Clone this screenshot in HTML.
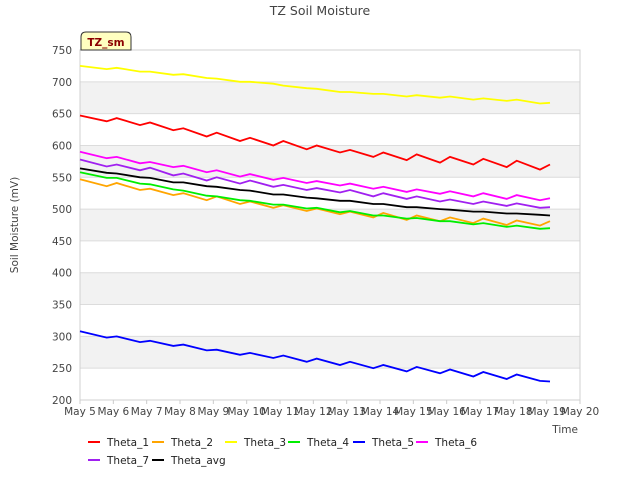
<!DOCTYPE html>
<html><head><meta charset="utf-8"><style>
body{margin:0;background:#fff;font-family:"DejaVu Sans","Liberation Sans",sans-serif;}
svg text{font-family:"DejaVu Sans","Liberation Sans",sans-serif;}
</style></head><body>
<svg id="chart" width="640" height="480" xmlns="http://www.w3.org/2000/svg">
<rect width="640" height="480" fill="#fff"/>
<g id="bands"></g><g id="grid"></g>
<rect x="80" y="50" width="500" height="350" fill="none" stroke="#d0d0d0"/>
<g id="series"></g><g id="axes"></g>
<text x="320" y="15" text-anchor="middle" font-size="12.5" fill="#444">TZ Soil Moisture</text>
<text transform="translate(18,225) rotate(-90)" text-anchor="middle" font-size="10.5" fill="#444">Soil Moisture (mV)</text>
<text x="578" y="433" text-anchor="end" font-size="10.5" fill="#444">Time</text>
<g>
<path d="M81,50 L81,37 Q81,32 86,32 L126,32 Q131,32 131,37 L131,50 Z" fill="#ffffc0" stroke="#333"/>
<text x="106" y="46" text-anchor="middle" font-size="10.5" font-weight="bold" fill="#8b0000">TZ_sm</text>
</g>
<g id="legend"></g>
</svg>
<script>
const NS="http://www.w3.org/2000/svg";
const yTicks=[200,250,300,350,400,450,500,550,600,650,700,750];
const xTickLabels=["May 5","May 6","May 7","May 8","May 9","May 10","May 11","May 12","May 13","May 14","May 15","May 16","May 17","May 18","May 19","May 20"];
const times=[0,0.8,1.1,1.8,2.1,2.8,3.1,3.8,4.1,4.8,5.1,5.8,6.1,6.8,7.1,7.8,8.1,8.8,9.1,9.8,10.1,10.8,11.1,11.8,12.1,12.8,13.1,13.8,14.1];
const theta1=[647,638,643,632,636,624,627,614,620,607,612,600,607,594,600,589,593,582,589,577,586,573,582,570,579,566,576,562,570];
const theta2=[547,536,541,530,532,522,525,514,520,508,512,502,506,497,501,492,496,487,494,483,490,481,487,478,485,475,482,474,481];
const theta3=[725,720,722,716,716,711,712,706,705,700,700,697,694,690,689,684,684,681,681,677,679,675,677,672,674,670,672,666,667];
const theta4=[558,549,549,540,539,531,529,521,520,514,513,507,507,501,502,495,497,490,490,485,486,481,481,476,478,472,474,469,470];
const theta5=[308,298,300,291,293,285,287,278,279,271,274,266,270,260,265,255,260,250,255,245,252,242,248,237,244,233,240,230,229];
const theta6=[590,580,582,572,574,566,568,558,561,551,555,546,549,541,544,537,540,532,535,527,531,524,528,520,525,516,522,514,517];
const theta7=[578,567,570,561,565,553,556,545,550,540,545,535,538,530,533,526,530,520,525,516,520,512,515,508,512,505,509,502,503];
const thetaAvg=[564,557,556,550,549,542,542,536,535,530,529,523,523,518,517,513,513,508,508,503,503,500,499,496,496,493,493,491,490];
const seriesNames=["Theta_1","Theta_2","Theta_3","Theta_4","Theta_5","Theta_6","Theta_7","Theta_avg"];
const seriesData=[theta1,theta2,theta3,theta4,theta5,theta6,theta7,thetaAvg];
const colors=["#ff0000","#ffa500","#ffff00","#00ee00","#0000ff","#ff00ff","#a020f0","#000000"];
const X=d=>80+d*500/15, Y=v=>400-(v-200)*350/550;
function mk(tag,attrs,parent){const e=document.createElementNS(NS,tag);for(const k in attrs)e.setAttribute(k,attrs[k]);parent.appendChild(e);return e;}
const bands=document.getElementById('bands'),grid=document.getElementById('grid'),axes=document.getElementById('axes'),ser=document.getElementById('series'),leg=document.getElementById('legend');
for(let v=250;v<750;v+=100){const b=mk('rect',{x:80,y:Y(v+50),width:500,height:Y(v)-Y(v+50),fill:'#f2f2f2'},bands);

}
yTicks.forEach(v=>{const l=mk('line',{x1:80,x2:580,y1:Y(v),y2:Y(v),stroke:'#dcdcdc'},grid);


const t=mk('text',{x:72,y:Y(v)+4,'text-anchor':'end','font-size':10.5,fill:'#444'},axes);t.textContent=v;

});
xTickLabels.forEach((s,i)=>{const l=mk('line',{x1:X(i),x2:X(i),y1:400,y2:404,stroke:'#ccc'},axes);


const t=mk('text',{x:X(i),y:415,'text-anchor':'middle','font-size':10.5,fill:'#444'},axes);t.textContent=s;

});
seriesData.forEach((arr,k)=>{const pts=arr.map((v,i)=>X(times[i]).toFixed(1)+','+Y(v).toFixed(1)).join(' ');
const p=mk('polyline',{points:pts,fill:'none',stroke:colors[k],'stroke-width':1.8},ser);

});
const legPos=[[73,442],[137,442],[210,442],[273,442],[338,442],[401,442],[73,460],[137,460]];
seriesNames.forEach((n,k)=>{const g=mk('g',{},leg);


const [x,y]=legPos[k];mk('line',{x1:x+15,x2:x+27,y1:y,y2:y,stroke:colors[k],'stroke-width':2},g);
const t=mk('text',{x:x+34,y:y+4,'font-size':10.5,fill:'#222'},g);t.textContent=n;});
</script>
</body></html>
